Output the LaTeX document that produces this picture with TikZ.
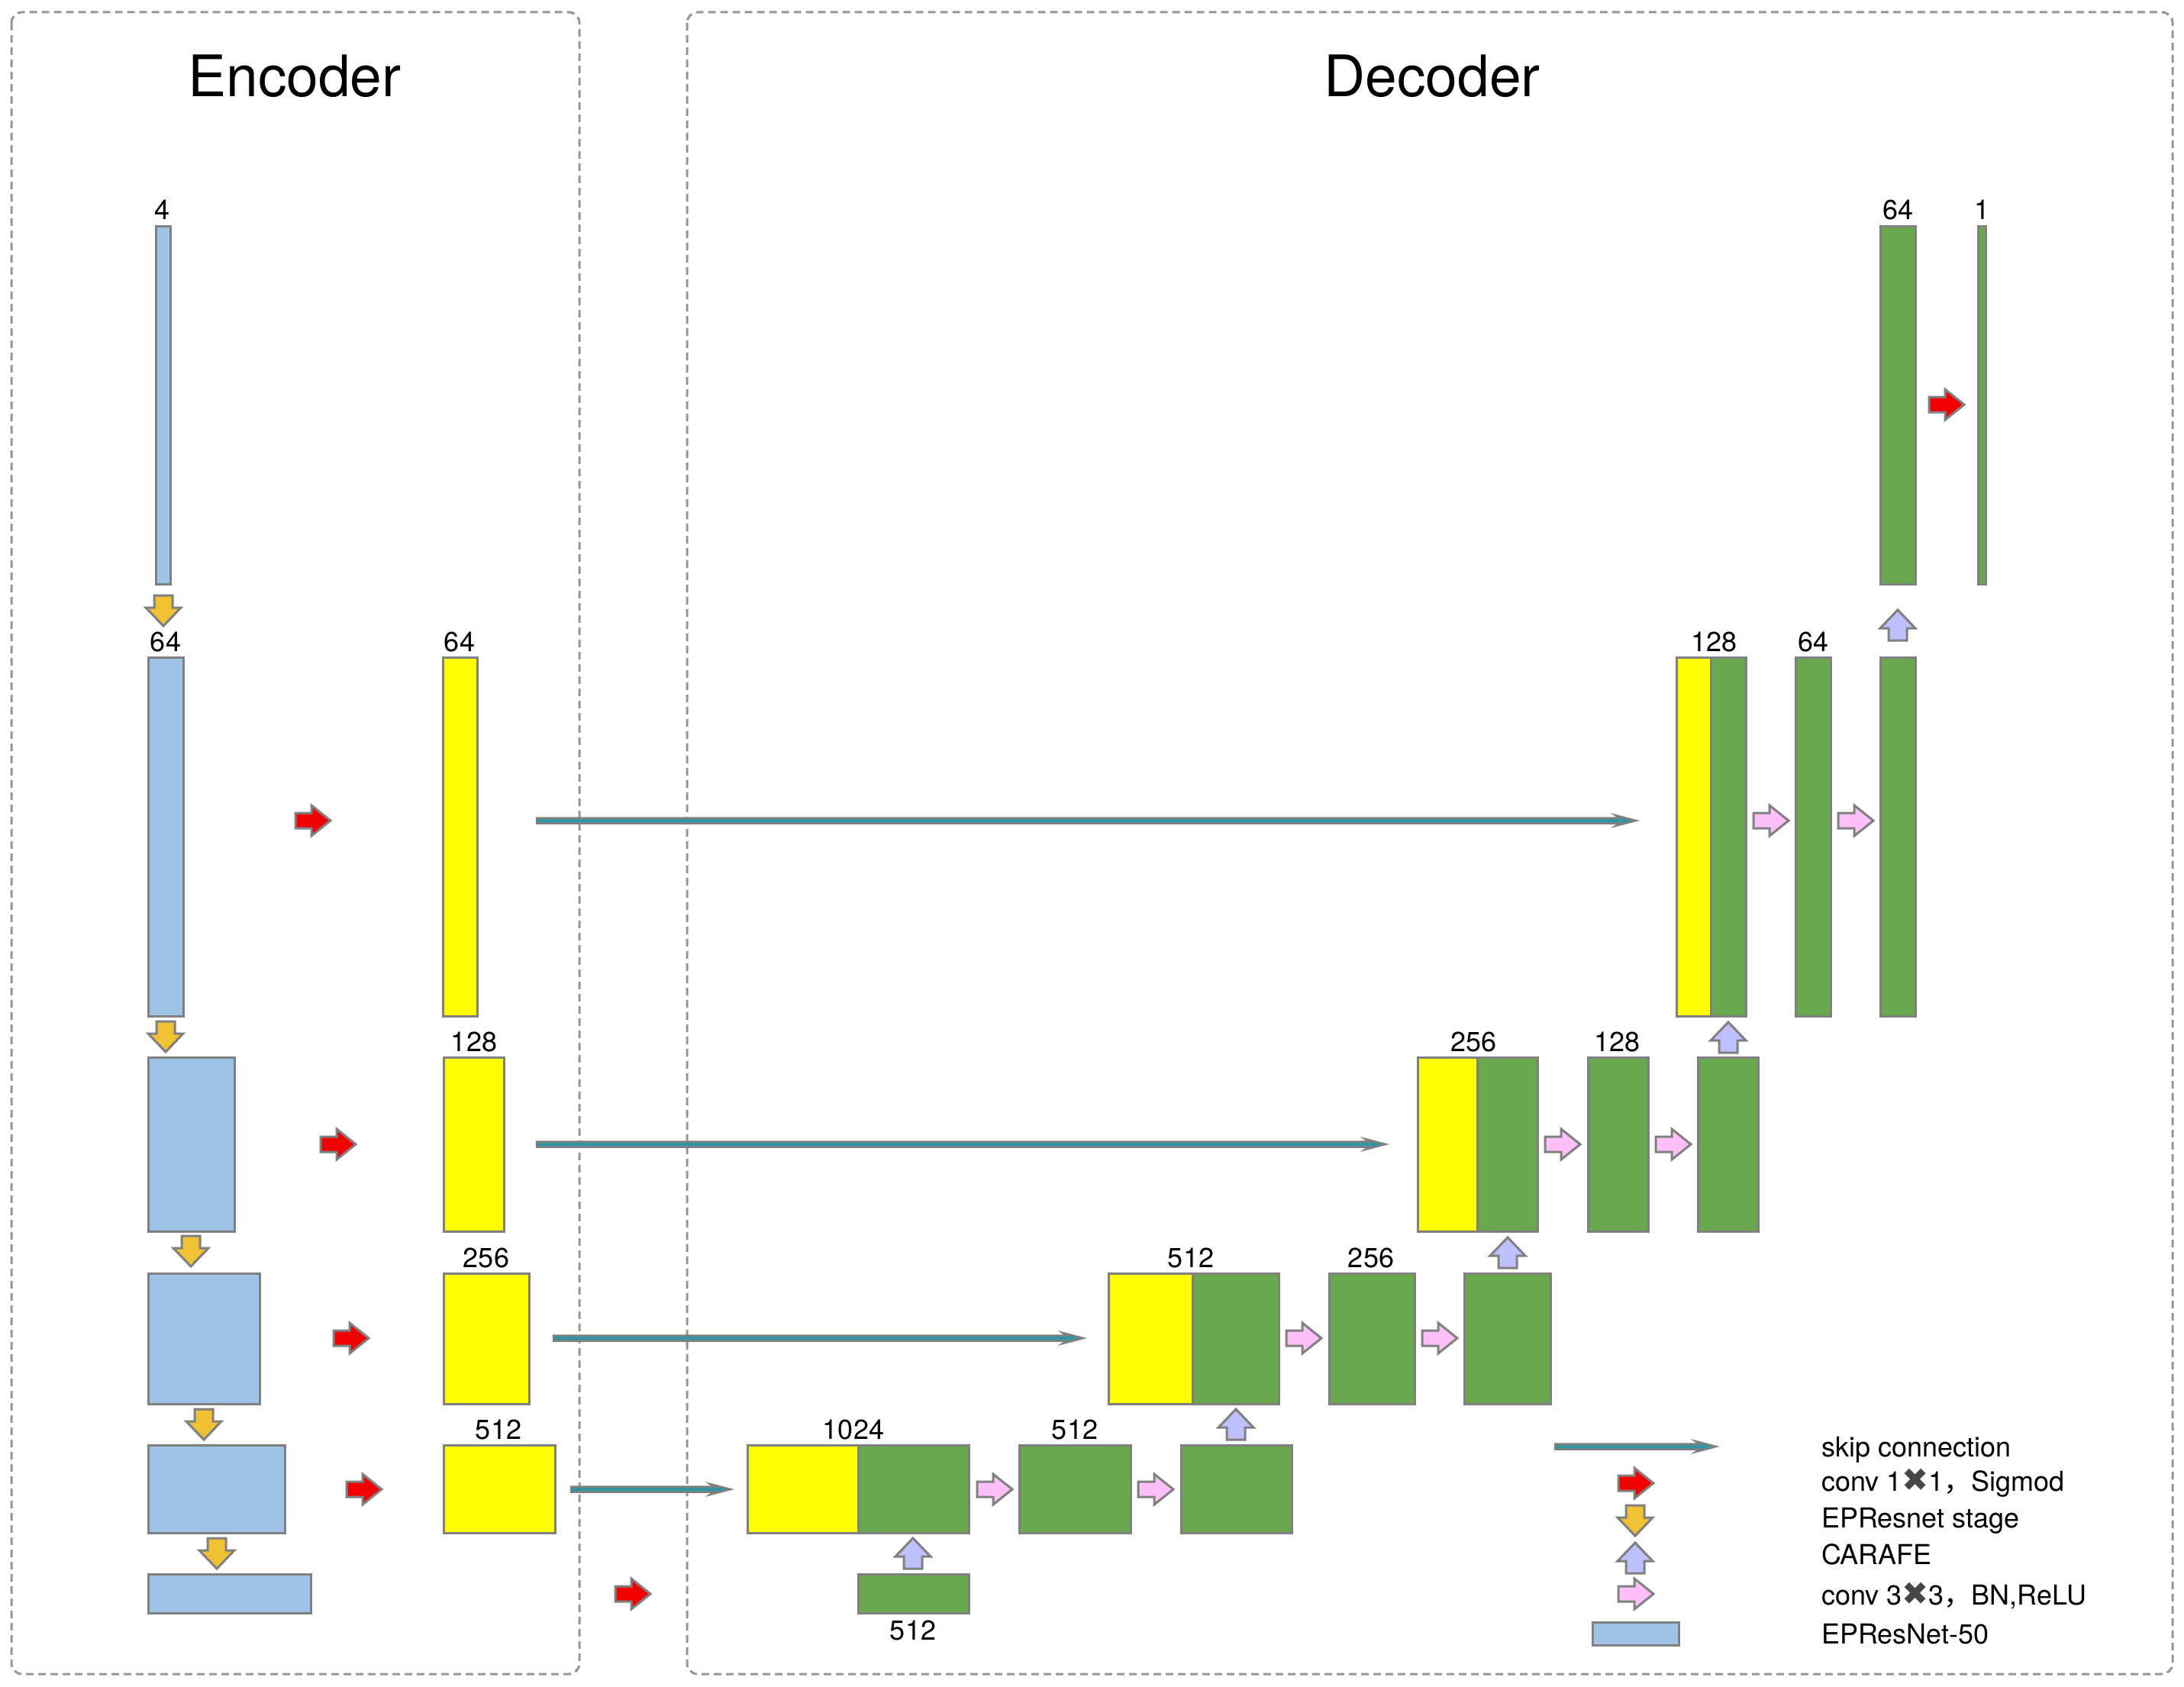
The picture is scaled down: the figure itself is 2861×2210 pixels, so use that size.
\documentclass[tikz,border=0pt]{standalone}
\usepackage{fontspec}
\setmainfont{TeX Gyre Heros}
\newfontfamily\symfont{DejaVu Sans}
\newfontfamily\cjkfont{Noto Sans CJK SC}
\definecolor{encblue}{RGB}{159,195,230}
\definecolor{yel}{RGB}{255,255,0}
\definecolor{grn}{RGB}{106,168,79}
\definecolor{bordergray}{RGB}{128,128,128}
\definecolor{convred}{RGB}{242,0,0}
\definecolor{stageorange}{RGB}{240,193,50}
\definecolor{carafe}{RGB}{190,192,255}
\definecolor{convpink}{RGB}{255,192,250}
\definecolor{skipteal}{RGB}{48,150,163}
\definecolor{dashgray}{RGB}{150,150,150}
\definecolor{xgray}{RGB}{70,70,70}

\newcommand\fmap[6]{\node[#2, minimum width=#5pt-#3pt, minimum height=#6pt-#4pt] (#1) at (#3,#4) {};}
% horizontal block arrow: fill, left x, centre y
\newcommand\HArr[3]{\draw[blockarr, fill=#1] (#2,#3-10) -- ++(21,0) -- ++(0,-10) -- ++(25,20) -- ++(-25,20) -- ++(0,-10) -- ++(-21,0) -- cycle;}
% down arrow: fill, centre x, top y
\newcommand\DArr[3]{\draw[blockarr, fill=#1] (#2-12,#3) -- (#2+12,#3) -- (#2+12,#3+16) -- (#2+23,#3+16) -- (#2,#3+40) -- (#2-23,#3+16) -- (#2-12,#3+16) -- cycle;}
% up arrow: fill, centre x, bottom y
\newcommand\UArr[3]{\draw[blockarr, fill=#1] (#2-12,#3) -- (#2+12,#3) -- (#2+12,#3-16) -- (#2+23,#3-16) -- (#2,#3-40) -- (#2-23,#3-16) -- (#2-12,#3-16) -- cycle;}
% skip connection from coordinate #1 to coordinate #2 (same y)
\newcommand\Skip[2]{\draw[skiparr] let \p1=(#1), \p2=(#2) in (\x1,\y1+3.5pt) -- (\x2-22pt,\y1+3.5pt) -- (\x2-27pt,\y1+7pt) -- (\x2,\y1) -- (\x2-27pt,\y1-7pt) -- (\x2-22pt,\y1-3.5pt) -- (\x1,\y1-3.5pt) -- cycle;}
\newcommand\heavyx{{\symfont\fontsize{42}{42}\selectfont\textcolor{xgray}{✖}}}

\usetikzlibrary{calc}

\tikzset{
  every node/.style={inner sep=0pt, outer sep=0pt},
  lbl/.style={font=\fontsize{36}{42}\selectfont, anchor=base},
  legtxt/.style={font=\fontsize{36}{42}\selectfont, anchor=base west},
  ttl/.style={font=\fontsize{75}{90}\selectfont, anchor=base},
  blk/.style={draw=bordergray, line width=3pt, anchor=north west, inner sep=0pt, outer sep=0pt},
  enc/.style={blk, fill=encblue},
  yb/.style={blk, fill=yel},
  gb/.style={blk, fill=grn},
  blockarr/.style={draw=bordergray, line width=3pt, line join=miter},
  skiparr/.style={draw=bordergray, fill=skipteal, line width=2.5pt, line join=miter},
  dashbox/.style={draw=dashgray, line width=3pt, dash pattern=on 10pt off 6pt, rounded corners=14pt},
}

\begin{document}
\begin{tikzpicture}[x=1pt, y=-1pt]
\useasboundingbox (0,0) rectangle (2861,2210);

% frames
\draw[dashbox] (15,16) rectangle (759,2193);
\draw[dashbox] (900,16) rectangle (2846,2193);
\node[ttl] (tenc) at (386,127) {Encoder};
\node[ttl] (tdec) at (1876,127) {Decoder};

% encoder backbone
\fmap{e0}{enc}{204}{296}{223}{765}
\fmap{e1}{enc}{194}{861}{240}{1331}
\fmap{e2}{enc}{194}{1385}{307}{1613}
\fmap{e3}{enc}{194}{1668}{340}{1839}
\fmap{e4}{enc}{194}{1893}{373}{2008}
\fmap{e5}{enc}{194}{2062}{407}{2113}
\node[lbl] (le0) at (213,287) {4};
\node[lbl] (le1) at (217,853) {64};

\DArr{stageorange}{214}{780}
\DArr{stageorange}{217}{1338}
\DArr{stageorange}{250}{1619}
\DArr{stageorange}{267}{1846}
\DArr{stageorange}{284}{2015}

% 1x1 conv outputs
\fmap{y1}{yb}{580}{861}{625}{1331}
\fmap{y2}{yb}{581}{1385}{660}{1613}
\fmap{y3}{yb}{581}{1668}{693}{1839}
\fmap{y4}{yb}{581}{1893}{727}{2008}
\node[lbl] (ly1) at (602,853) {64};
\node[lbl] (ly2) at (621,1377) {128};
\node[lbl] (ly3) at (637,1660) {256};
\node[lbl] (ly4) at (653,1885) {512};

\HArr{convred}{387}{1075}
\HArr{convred}{420}{1499}
\HArr{convred}{437}{1753}
\HArr{convred}{454}{1951}
\HArr{convred}{806}{2088}
\HArr{convred}{2527}{530}

% skip connections
\coordinate (s1a) at (703,1075); \coordinate (s1b) at (2143,1075);
\coordinate (s2a) at (703,1499); \coordinate (s2b) at (1815,1499);
\coordinate (s3a) at (725,1753); \coordinate (s3b) at (1419,1753);
\coordinate (s4a) at (748,1951); \coordinate (s4b) at (957,1951);
\Skip{s1a}{s1b}
\Skip{s2a}{s2b}
\Skip{s3a}{s3b}
\Skip{s4a}{s4b}

% decoder row 5
\fmap{d5}{gb}{1124}{2062}{1269}{2113}
\node[lbl] (ld5) at (1196,2148) {512};
\UArr{carafe}{1196}{2055}

% decoder row 4
\fmap{d4y}{yb}{979}{1893}{1124}{2008}
\fmap{d4g}{gb}{1124}{1893}{1269}{2008}
\fmap{d4b}{gb}{1335}{1893}{1481}{2008}
\fmap{d4c}{gb}{1547}{1893}{1692}{2008}
\node[lbl] (ld4a) at (1118,1885) {1024};
\node[lbl] (ld4b) at (1408,1885) {512};
\HArr{convpink}{1280}{1951}
\HArr{convpink}{1491}{1951}
\UArr{carafe}{1619}{1886}

% decoder row 3
\fmap{d3y}{yb}{1452}{1668}{1562}{1839}
\fmap{d3g}{gb}{1562}{1668}{1675}{1839}
\fmap{d3b}{gb}{1741}{1668}{1853}{1839}
\fmap{d3c}{gb}{1918}{1668}{2031}{1839}
\node[lbl] (ld3a) at (1560,1660) {512};
\node[lbl] (ld3b) at (1796,1660) {256};
\HArr{convpink}{1685}{1753}
\HArr{convpink}{1863}{1753}
\UArr{carafe}{1975}{1661}

% decoder row 2
\fmap{d2y}{yb}{1857}{1385}{1935}{1613}
\fmap{d2g}{gb}{1935}{1385}{2014}{1613}
\fmap{d2b}{gb}{2080}{1385}{2159}{1613}
\fmap{d2c}{gb}{2224}{1385}{2303}{1613}
\node[lbl] (ld2a) at (1930,1377) {256};
\node[lbl] (ld2b) at (2118,1377) {128};
\HArr{convpink}{2024}{1499}
\HArr{convpink}{2169}{1499}
\UArr{carafe}{2264}{1379}

% decoder row 1
\fmap{d1y}{yb}{2196}{861}{2241}{1331}
\fmap{d1g}{gb}{2241}{861}{2287}{1331}
\fmap{d1b}{gb}{2352}{861}{2398}{1331}
\fmap{d1c}{gb}{2463}{861}{2509}{1331}
\node[lbl] (ld1a) at (2245,853) {128};
\node[lbl] (ld1b) at (2375,853) {64};
\HArr{convpink}{2297}{1075}
\HArr{convpink}{2408}{1075}
\UArr{carafe}{2486}{839}

% decoder top
\fmap{t1}{gb}{2463}{296}{2509}{765}
\fmap{t2}{gb}{2591}{296}{2601}{765}
\node[lbl] (lt1) at (2486,287) {64};
\node[lbl] (lt2) at (2596,287) {1};

% legend
\coordinate (ka) at (2037,1895); \coordinate (kb) at (2248,1895);
\Skip{ka}{kb}
\HArr{convred}{2120}{1943}
\DArr{stageorange}{2142}{1972}
\UArr{carafe}{2142}{2061}
\HArr{convpink}{2120}{2088}
\fmap{lgblue}{enc}{2086}{2125}{2199}{2155}
\node[legtxt] (g1) at (2386,1908) {skip connection};
\node[legtxt] (g2) at (2386,1953) {conv 1\heavyx1{\cjkfont ，}Sigmod};
\node[legtxt] (g3) at (2386,2001) {EPResnet stage};
\node[legtxt] (g4) at (2386,2049) {CARAFE};
\node[legtxt] (g5) at (2386,2102) {conv 3\heavyx3{\cjkfont ，}BN,ReLU};
\node[legtxt] (g6) at (2386,2153) {EPResNet-50};
\end{tikzpicture}
\end{document}
